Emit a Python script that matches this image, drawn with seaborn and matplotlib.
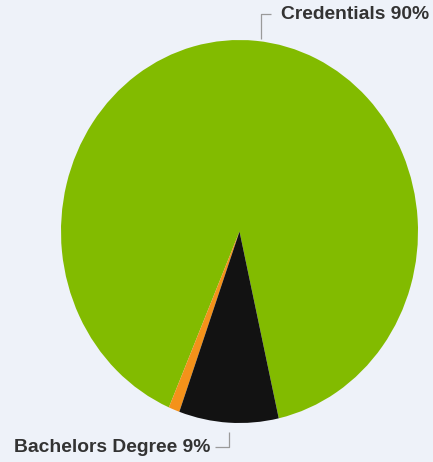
import numpy as np
import matplotlib
matplotlib.use("Agg")
import matplotlib.pyplot as plt
import seaborn as sns

# Degree types held by graduates (share of total, %)
categories = ["Credentials", "Other", "Bachelors Degree"]
shares = [90, 1, 9]
colors = ["#82bb00", "#f4921a", "#121212"]
labelled = ["Credentials", "Bachelors Degree"]

BG = "#eef2f9"
sns.set_theme(style="white", rc={"figure.facecolor": BG, "axes.facecolor": BG})
plt.rcParams["font.family"] = ["Liberation Sans", "DejaVu Sans"]

W, H = 433, 462
fig = plt.figure(figsize=(W / 100, H / 100), dpi=100)
# pie box in pixels (left, right, top, bottom)
pl, pr, pt, pb = 61, 418, 40, 423
ax = fig.add_axes([pl / W, 1 - pb / H, (pr - pl) / W, (pb - pt) / H])

wedges, _ = ax.pie(shares, colors=colors, startangle=282.7, counterclock=True,
                   radius=1, center=(0, 0), frame=False,
                   wedgeprops=dict(linewidth=0))
ax.set_xlim(-1, 1)
ax.set_ylim(-1, 1)
ax.set_aspect("auto")
ax.axis("off")

# data units per pixel
px = 2 / (pr - pl)
py = 2 / (pb - pt)
line_kw = dict(color="#9a9a9a", lw=0.9, clip_on=False, solid_capstyle="butt")
text_kw = dict(fontsize=13.9, fontweight="bold", color="#333333", va="center")

for w, name, val in zip(wedges, categories, shares):
    if name not in labelled:
        continue
    mid = np.deg2rad((w.theta1 + w.theta2) / 2)
    x0, y0 = np.cos(mid), np.sin(mid)
    label = f"{name} {val}%"
    if y0 > 0:
        ya = 1 + 26 * py
        xv = x0 + 5 * px
        ax.plot([xv, xv, xv + 10 * px], [y0 + 2 * py, ya, ya], **line_kw)
        ax.text(xv + 20 * px, ya, label, ha="left", **text_kw)
    else:
        ya = -1 - 24 * py
        ax.plot([x0, x0, x0 - 14 * px], [y0 - 9 * py, ya, ya], **line_kw)
        ax.text(x0 - 18 * px, ya - 1 * py, label, ha="right", **text_kw)

fig.savefig("out.png", dpi=100, facecolor=BG)
